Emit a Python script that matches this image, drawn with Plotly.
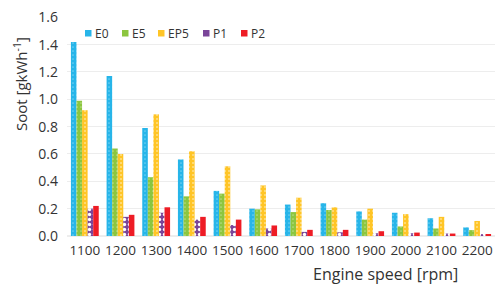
import plotly.graph_objects as go

categories = ["1100", "1200", "1300", "1400", "1500", "1600", "1700", "1800", "1900", "2000", "2100", "2200"]
E0 = [1.42, 1.17, 0.79, 0.56, 0.33, 0.20, 0.23, 0.24, 0.18, 0.17, 0.13, 0.063]
E5 = [0.99, 0.64, 0.43, 0.29, 0.31, 0.195, 0.175, 0.19, 0.12, 0.07, 0.055, 0.043]
EP5 = [0.92, 0.60, 0.89, 0.62, 0.51, 0.37, 0.28, 0.21, 0.20, 0.16, 0.14, 0.11]
P1 = [0.20, 0.14, 0.17, 0.12, 0.08, 0.055, 0.03, 0.027, 0.02, 0.02, 0.018, 0.012]
P2 = [0.22, 0.155, 0.21, 0.14, 0.12, 0.077, 0.045, 0.045, 0.035, 0.025, 0.018, 0.012]
y_ticks = [0.0, 0.2, 0.4, 0.6, 0.8, 1.0, 1.2, 1.4, 1.6]
series_names = ["E0", "E5", "EP5", "P1", "P2"]
series_values = [E0, E5, EP5, P1, P2]

colors = ["#27B5E9", "#8CC63F", "#FFC526", "#7A4599", "#EE1C25"]
patterns = [
    dict(shape=".", fgcolor="#6FD0F2", size=4, solidity=0.15),
    dict(shape=".", fgcolor="#B5DC85", size=4, solidity=0.15),
    dict(shape=".", fgcolor="#FFE08A", size=4, solidity=0.2),
    dict(shape=".", fgcolor="#FFFFFF", size=5, solidity=0.35),
    None,
]

W, H = 495, 287
ML, MR, MT, MB = 67, 0, 17, 51
PW, PH = W - ML - MR, H - MT - MB


def px_x(x):
    return (x - ML) / PW


def px_y(y):
    return 1 - (y - MT) / PH


fig = go.Figure()
for name, vals, color, pat in zip(series_names, series_values, colors, patterns):
    marker = dict(color=color, line=dict(width=0))
    if pat:
        p = dict(pat)
        p["bgcolor"] = color
        p["fillmode"] = "replace"
        marker["pattern"] = p
    fig.add_trace(go.Bar(x=categories, y=vals, name=name, marker=marker, showlegend=False))

TXT = "#333333"
annotations = [
    dict(text="Soot [gkWh<sup>-1</sup>]", x=px_x(20), y=px_y(84), xref="paper", yref="paper",
         showarrow=False, textangle=-90, xanchor="center", yanchor="middle",
         font=dict(size=15, color=TXT)),
    dict(text="Engine speed [rpm]", x=px_x(385), y=px_y(274), xref="paper", yref="paper",
         showarrow=False, xanchor="center", yanchor="middle",
         font=dict(size=16, color=TXT)),
]
shapes = []
legend_x = [85, 122, 158, 203, 241]
for lx, name, color in zip(legend_x, series_names, colors):
    shapes.append(dict(type="rect", xref="paper", yref="paper",
                       x0=px_x(lx), x1=px_x(lx + 6.5), y0=px_y(36.5), y1=px_y(30),
                       fillcolor=color, line=dict(width=0)))
    annotations.append(dict(text=name, x=px_x(lx + 7.5), y=px_y(33.5), xref="paper", yref="paper",
                            showarrow=False, xanchor="left", yanchor="middle",
                            font=dict(size=12, color=TXT)))

fig.update_layout(
    width=W, height=H,
    margin=dict(l=ML, r=MR, t=MT, b=MB, autoexpand=False),
    paper_bgcolor="white", plot_bgcolor="white",
    barmode="group", bargap=0.22, bargroupgap=0,
    font=dict(family="Open Sans, Noto Sans, sans-serif", color=TXT, size=13),
    showlegend=False,
    xaxis=dict(type="category", showgrid=False, showline=False, ticks="",
               tickfont=dict(size=13.5, color=TXT), ticklabelstandoff=4, automargin=False,
               ticklabeloverflow="allow"),
    yaxis=dict(range=[0, 1.602], tickvals=y_ticks, ticktext=[f"{v:.1f}" for v in y_ticks],
               showgrid=True, gridcolor="#EDEDED", gridwidth=1, zeroline=True,
               zerolinecolor="#EDEDED", showline=False, ticks="",
               tickfont=dict(size=14, color=TXT), ticklabelstandoff=8, automargin=False,
               ticklabeloverflow="allow"),
    annotations=annotations,
    shapes=shapes,
)

fig.write_html(
    "out.html",
    config={"displayModeBar": False},
    post_script="document.body.style.margin='0';document.body.style.overflow='hidden';",
)
